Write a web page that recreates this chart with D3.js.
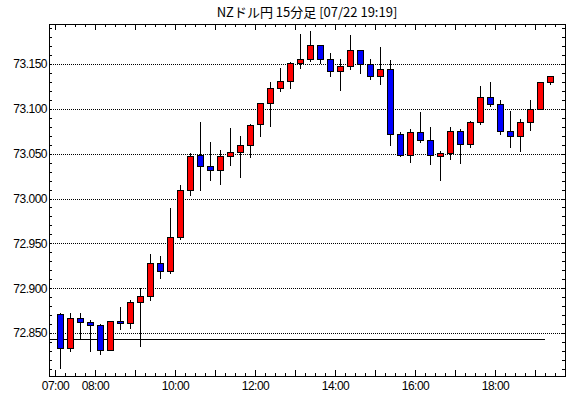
<!DOCTYPE html>
<html>
<head>
<meta charset="utf-8">
<script src="https://cdn.jsdelivr.net/npm/d3@7"></script>
<style>
body{margin:0;background:#fff;}
text{font-family:"Liberation Sans",sans-serif;}
</style>
</head>
<body>
<div id="plot"></div>
<script>
//chart data, 15 minute candles
var times = ['07:00','07:15','07:30','07:45','08:00','08:15','08:30','08:45','09:00','09:15',
	'09:30','09:45','10:00','10:15','10:30','10:45','11:00','11:15','11:30','11:45',
	'12:00','12:15','12:30','12:45','13:00','13:15','13:30','13:45','14:00','14:15',
	'14:30','14:45','15:00','15:15','15:30','15:45','16:00','16:15','16:30','16:45',
	'17:00','17:15','17:30','17:45','18:00','18:15','18:30','18:45','19:00','19:15'];
var open = [72.871,72.833,72.867,72.862,72.859,72.831,72.863,72.861,72.885,72.891,
	72.928,72.919,72.957,73.010,73.049,73.036,73.032,73.047,73.052,73.060,
	73.083,73.106,73.123,73.131,73.151,73.156,73.171,73.155,73.142,73.148,
	73.166,73.150,73.136,73.144,73.072,73.049,73.074,73.065,73.047,73.051,
	73.075,73.061,73.085,73.113,73.105,73.075,73.070,73.085,73.100,73.130];
var high = [72.872,72.872,72.872,72.865,72.860,72.864,72.879,72.887,72.900,72.938,
	72.936,72.989,73.015,73.051,73.085,73.063,73.054,73.079,73.070,73.083,
	73.107,73.130,73.145,73.152,73.183,73.187,73.171,73.162,73.155,73.182,
	73.166,73.155,73.169,73.154,73.074,73.077,73.096,73.080,73.053,73.080,
	73.077,73.086,73.125,73.130,73.110,73.098,73.089,73.110,73.130,73.137];
var low = [72.810,72.829,72.843,72.829,72.826,72.830,72.854,72.855,72.834,72.886,
	72.910,72.916,72.954,73.003,73.008,73.020,73.015,73.036,73.023,73.045,
	73.069,73.080,73.119,73.122,73.144,73.152,73.150,73.135,73.120,73.143,
	73.139,73.132,73.127,73.059,73.046,73.040,73.062,73.037,73.020,73.043,
	73.038,73.056,73.082,73.102,73.071,73.056,73.052,73.075,73.100,73.127];
var close = [72.833,72.867,72.862,72.859,72.831,72.863,72.861,72.885,72.891,72.928,
	72.919,72.957,73.010,73.047,73.036,73.032,73.047,73.052,73.060,73.082,
	73.107,73.123,73.131,73.151,73.156,73.171,73.155,73.142,73.148,73.165,
	73.150,73.136,73.144,73.072,73.049,73.074,73.065,73.048,73.051,73.075,
	73.061,73.085,73.113,73.105,73.075,73.070,73.085,73.100,73.130,73.137];

var xLabels = ['07:00','08:00','10:00','12:00','14:00','16:00','18:00'];
var yLabels = [72.85,72.90,72.95,73.00,73.05,73.10,73.15];
var refLine = 72.8437, refLineEnd = '19:15';
var title = 'NZドル円 15分足 [07/22 19:19]';

//drawing environment
var W = 570, H = 398;
var margin = {t:24,r:5,b:22,l:49};
var width = W-margin.l-margin.r,
	height = H-margin.t-margin.b;

var svg = d3.select('#plot')
	.append('svg')
	.attr('width',W)
	.attr('height',H);

var plot = svg.append('g')
	.attr('transform','translate('+margin.l+','+margin.t+')')
	.style('shape-rendering','crispEdges');

function mins(t){
	var p = t.split(':');
	return (+p[0]-7)*60 + (+p[1]);
}

// minutes since 07:00, slot width 15 min
var x = d3.scaleLinear().domain([-9,765]).range([0,width]);
var y = d3.scaleLinear().domain([72.8022,73.1945]).range([height,0]);
function px(v){ return Math.round(v)+0.5; }

// dotted grid
plot.selectAll('.grid')
	.data(yLabels)
	.enter()
	.append('line')
	.attr('x1',0).attr('x2',width)
	.attr('y1',function(d){return px(y(d));})
	.attr('y2',function(d){return px(y(d));})
	.style('stroke','#000')
	.style('stroke-dasharray','1,1');

// reference line
plot.append('line')
	.attr('x1',0).attr('x2',x(mins(refLineEnd)))
	.attr('y1',px(y(refLine))).attr('y2',px(y(refLine)))
	.style('stroke','#000');

// y ticks every 0.01, inside on both sides
var yTicks = d3.range(72.81,73.195,0.01);
yTicks.forEach(function(v){
	var yy = px(y(v));
	plot.append('line').attr('x1',0).attr('x2',3).attr('y1',yy).attr('y2',yy).style('stroke','#000');
	plot.append('line').attr('x1',width-3).attr('x2',width).attr('y1',yy).attr('y2',yy).style('stroke','#000');
});

// x ticks every 15 min, longer on the hour
var xTicks = d3.range(0,765,15);
xTicks.forEach(function(m){
	var xx = px(x(m));
	var len = (m%60==0) ? 6 : 3;
	plot.append('line').attr('x1',xx).attr('x2',xx).attr('y1',0).attr('y2',len).style('stroke','#000');
	plot.append('line').attr('x1',xx).attr('x2',xx).attr('y1',height-len).attr('y2',height).style('stroke','#000');
});

// candles
times.forEach(function(t,i){
	var cx = Math.round(x(mins(t)+7.5));
	var up = close[i]>=open[i];
	plot.append('line')
		.attr('x1',cx+0.5).attr('x2',cx+0.5)
		.attr('y1',Math.round(y(high[i]))).attr('y2',Math.round(y(low[i])))
		.style('stroke','#000');
	var top = Math.round(y(Math.max(open[i],close[i])));
	var bot = Math.round(y(Math.min(open[i],close[i])));
	plot.append('rect')
		.attr('x',cx-2.5)
		.attr('y',top+0.5)
		.attr('width',6)
		.attr('height',Math.max(bot-top,1))
		.style('fill',up ? '#ff0000' : '#0000ff')
		.style('stroke','#000');
});

// frame
plot.append('rect')
	.attr('x',0.5).attr('y',0.5)
	.attr('width',width).attr('height',height)
	.style('fill','none')
	.style('stroke','#000')
	.style('stroke-width',1);

// labels
svg.selectAll('.ylab')
	.data(yLabels)
	.enter()
	.append('text')
	.attr('x',margin.l-2)
	.attr('y',function(d){return margin.t+y(d);})
	.attr('dy','0.36em')
	.attr('text-anchor','end')
	.style('font-size','12px')
	.style('letter-spacing','-0.5px')
	.text(function(d){return d3.format('.3f')(d);});

svg.selectAll('.xlab')
	.data(xLabels)
	.enter()
	.append('text')
	.attr('x',function(d){return margin.l+x(mins(d))+0.5;})
	.attr('y',390)
	.attr('text-anchor','middle')
	.style('font-size','12px')
	.style('letter-spacing','-0.5px')
	.text(function(d){return d;});

svg.append('text')
	.attr('x',margin.l+width/2)
	.attr('y',17)
	.attr('text-anchor','middle')
	.style('font-family','"Noto Sans CJK JP",sans-serif')
	.style('font-size','13px')
	.text(title);
</script>
</body>
</html>
